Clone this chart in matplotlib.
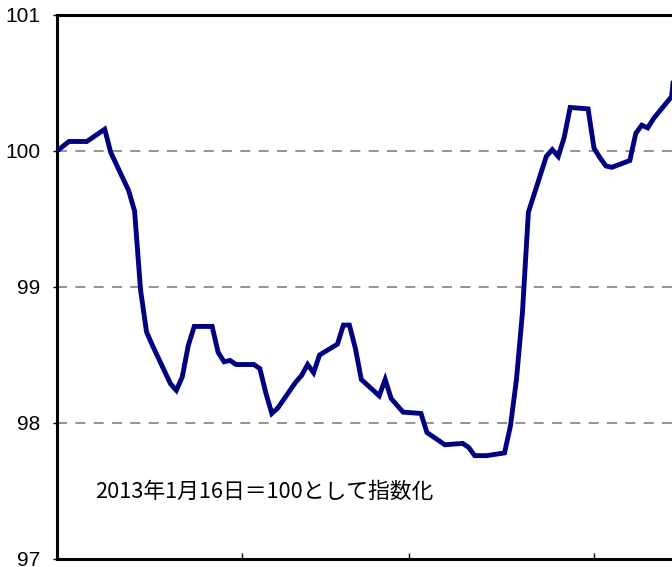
import matplotlib
matplotlib.use("Agg")
import matplotlib.pyplot as plt
import numpy as np
import pandas as pd

plt.rcParams['font.family'] = ['Liberation Sans', 'Noto Sans CJK JP', 'DejaVu Sans']

# Trading dates and index values (2013-01-16 = 100)
dates = ["2013-01-16", "2013-01-18", "2013-01-21", "2013-01-22", "2013-01-24", "2013-01-25",
         "2013-01-28", "2013-01-29", "2013-01-30", "2013-01-31", "2013-02-01", "2013-02-04",
         "2013-02-05", "2013-02-06", "2013-02-07", "2013-02-08", "2013-02-11", "2013-02-12",
         "2013-02-13", "2013-02-14", "2013-02-15", "2013-02-18", "2013-02-19", "2013-02-20",
         "2013-02-21", "2013-02-22", "2013-02-25", "2013-02-26", "2013-02-27", "2013-02-28",
         "2013-03-01", "2013-03-04", "2013-03-05", "2013-03-06", "2013-03-07", "2013-03-08",
         "2013-03-11", "2013-03-12", "2013-03-13", "2013-03-14", "2013-03-15", "2013-03-18",
         "2013-03-19", "2013-03-20", "2013-03-21", "2013-03-22", "2013-03-25", "2013-03-26",
         "2013-03-27", "2013-03-28", "2013-03-29", "2013-04-01", "2013-04-02", "2013-04-03",
         "2013-04-04", "2013-04-05", "2013-04-08", "2013-04-09", "2013-04-10", "2013-04-11",
         "2013-04-12", "2013-04-15", "2013-04-16", "2013-04-17", "2013-04-18", "2013-04-19",
         "2013-04-22", "2013-04-23", "2013-04-24", "2013-04-25", "2013-04-26", "2013-04-29",
         "2013-04-30"]
values = [100.00, 100.07, 100.07, 100.10, 100.16, 99.99,
          99.71, 99.56, 98.98, 98.67, 98.57, 98.29,
          98.24, 98.34, 98.57, 98.71, 98.71, 98.52,
          98.45, 98.46, 98.43, 98.43, 98.40, 98.22,
          98.07, 98.11, 98.30, 98.35, 98.43, 98.37,
          98.50, 98.58, 98.72, 98.72, 98.55, 98.32,
          98.20, 98.32, 98.18, 98.13, 98.08, 98.07,
          97.93, 97.90, 97.87, 97.84, 97.85, 97.82,
          97.76, 97.76, 97.76, 97.78, 97.98, 98.32,
          98.81, 99.55, 99.96, 100.01, 99.96, 100.10,
          100.32, 100.31, 100.02, 99.95, 99.89, 99.88,
          99.93, 100.13, 100.19, 100.17, 100.24, 100.40,
          100.82]
tick_dates = ["2013-02-16", "2013-03-16", "2013-04-16"]
y_ticks = [97, 98, 99, 100, 101]
note = "2013年1月16日＝100として指数化"

base = pd.Timestamp("2013-01-16")
x = np.array([(pd.Timestamp(d) - base).days for d in dates], dtype=float)
xt = [(pd.Timestamp(d) - base).days for d in tick_dates]

fig = plt.figure(figsize=(6.72, 5.67), dpi=100)
W, H = 672, 567
left_px, right_px, top_px, bot_px = 57, 689.5, 15, 559
ax = fig.add_axes([left_px / W, (H - bot_px) / H, (right_px - left_px) / W, (bot_px - top_px) / H])

for yv in [98, 99, 100]:
    ax.axhline(yv, color="#808080", lw=1.2, ls=(0, (6, 5)), zorder=1)

ax.plot(x, values, color="#000080", lw=3.5, solid_joinstyle="miter", zorder=3)

ax.set_xlim(0, 106)
ax.set_ylim(97, 101)
ax.set_yticks(y_ticks)
ax.set_yticklabels([str(v) for v in y_ticks], fontsize=15)
ax.set_xticks(xt)
ax.set_xticklabels([])
ax.tick_params(axis="y", direction="out", length=3, width=1, pad=9)
ax.tick_params(axis="x", direction="in", length=4.5, width=1)

for s in ["left", "bottom", "top"]:
    ax.spines[s].set_linewidth(2.2)
    ax.spines[s].set_color("black")
ax.spines["right"].set_visible(False)

fig.text(95 / W, 1 - 492 / H, note, fontsize=15.7, va="center", ha="left",
         family=['Noto Sans CJK JP', 'DejaVu Sans'])

fig.savefig("out.png", dpi=100)
